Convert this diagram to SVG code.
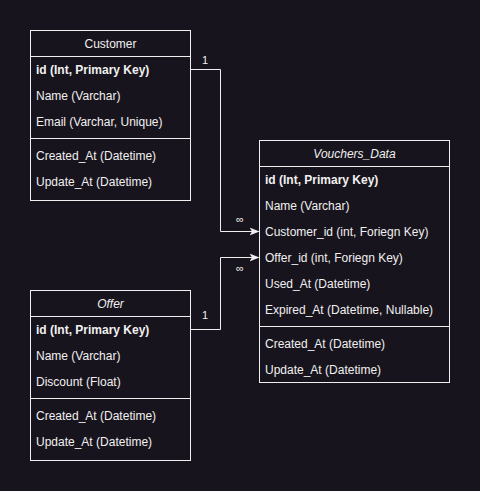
<svg xmlns="http://www.w3.org/2000/svg" width="480" height="491" viewBox="0 0 480 491">
<defs>
<style>
.box{fill:#18141d;stroke:#f0f0f0;stroke-width:1}
.ln{stroke:#f0f0f0;stroke-width:1;fill:none}
text{font-family:"Liberation Sans",Arial,sans-serif;font-size:12px;fill:#f0f0f0}
.h{text-anchor:middle}
.i{font-style:italic}
.b{font-weight:bold}
.edge{stroke:#f0f0f0;stroke-width:1;fill:none}
.lbl{font-size:11px;text-anchor:middle}
</style>
<marker id="arr" viewBox="0 0 10 10" refX="9" refY="5" markerWidth="10" markerHeight="10" markerUnits="userSpaceOnUse" orient="auto">
<path d="M0,1 L10,5 L0,9 L2.5,5 Z" fill="#f0f0f0"/>
</marker>
</defs>
<rect width="480" height="491" fill="#18141d"/>
<g id="connectors">
<path class="edge" d="M190.5,69.5 H220.5 V231.5 H258.5" marker-end="url(#arr)"/>
<path class="edge" d="M190.5,329.5 H220.5 V257.5 H258.5" marker-end="url(#arr)"/>
<text class="lbl" x="205" y="64">1</text>
<text class="lbl" x="240" y="223">∞</text>
<text class="lbl" x="205" y="319">1</text>
<text class="lbl" x="240" y="272">∞</text>
</g>
<g id="customer">
<rect class="box" x="30.5" y="30.5" width="160" height="170"/>
<line class="ln" x1="30.5" y1="56.5" x2="190.5" y2="56.5"/>
<line class="ln" x1="30.5" y1="138.5" x2="190.5" y2="138.5"/>
<text class="h" x="110.5" y="48">Customer</text>
<text class="b" x="36" y="74">id (Int, Primary Key)</text>
<text x="36" y="100">Name (Varchar)</text>
<text x="36" y="126">Email (Varchar, Unique)</text>
<text x="36" y="160">Created_At (Datetime)</text>
<text x="36" y="186">Update_At (Datetime)</text>
</g>
<g id="vouchers_data">
<rect class="box" x="259.5" y="140.5" width="190" height="242"/>
<line class="ln" x1="259.5" y1="166.5" x2="449.5" y2="166.5"/>
<line class="ln" x1="259.5" y1="326.5" x2="449.5" y2="326.5"/>
<text class="h i" x="354.5" y="158">Vouchers_Data</text>
<text class="b" x="265" y="184">id (Int, Primary Key)</text>
<text x="265" y="210">Name (Varchar)</text>
<text x="265" y="236">Customer_id (int, Foriegn Key)</text>
<text x="265" y="262">Offer_id (int, Foriegn Key)</text>
<text x="265" y="288">Used_At (Datetime)</text>
<text x="265" y="314">Expired_At (Datetime, Nullable)</text>
<text x="265" y="348">Created_At (Datetime)</text>
<text x="265" y="374">Update_At (Datetime)</text>
</g>
<g id="offer">
<rect class="box" x="30.5" y="290.5" width="160" height="170"/>
<line class="ln" x1="30.5" y1="316.5" x2="190.5" y2="316.5"/>
<line class="ln" x1="30.5" y1="398.5" x2="190.5" y2="398.5"/>
<text class="h i" x="110.5" y="308">Offer</text>
<text class="b" x="36" y="334">id (Int, Primary Key)</text>
<text x="36" y="360">Name (Varchar)</text>
<text x="36" y="386">Discount (Float)</text>
<text x="36" y="420">Created_At (Datetime)</text>
<text x="36" y="446">Update_At (Datetime)</text>
</g>
</svg>
